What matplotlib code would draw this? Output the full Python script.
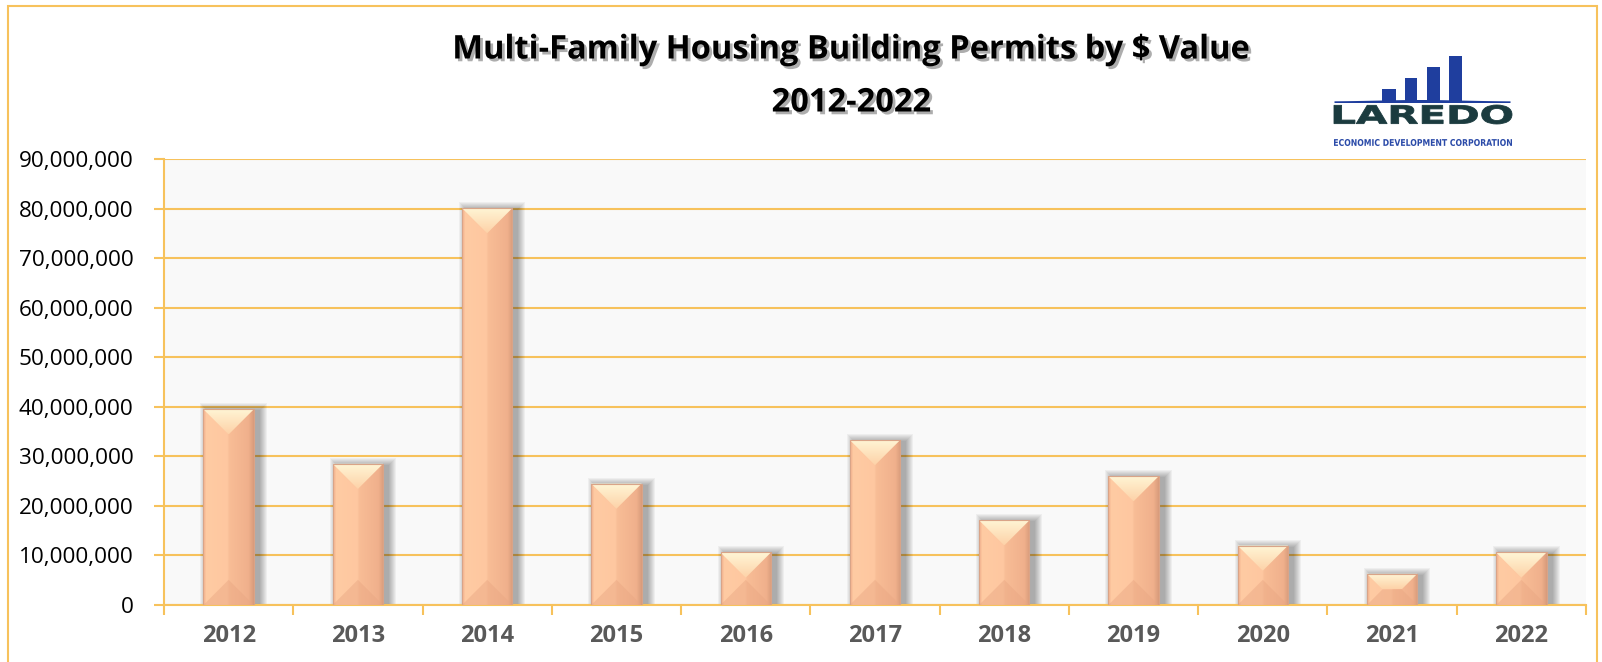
import matplotlib
matplotlib.use("Agg")
import matplotlib.pyplot as plt
import matplotlib.patheffects as pe
from matplotlib.patches import Rectangle, Polygon, PathPatch
from matplotlib.colors import LinearSegmentedColormap
from matplotlib.ticker import FuncFormatter, MultipleLocator
from matplotlib.textpath import TextPath
from matplotlib.font_manager import FontProperties
from matplotlib.transforms import Affine2D
import numpy as np

# data
years = ["2012", "2013", "2014", "2015", "2016", "2017", "2018", "2019", "2020", "2021", "2022"]
permit_values = [39.5e6, 28.5e6, 80.1e6, 24.5e6, 10.6e6, 33.3e6, 17.1e6, 26.0e6, 12.0e6, 6.3e6, 10.6e6]
y_ticks = [0, 10e6, 20e6, 30e6, 40e6, 50e6, 60e6, 70e6, 80e6, 90e6]

title_line1 = "Multi-Family Housing Building Permits by $ Value"
title_line2 = "2012-2022"

ORANGE = "#f7c25c"
W, H = 1602, 662

plt.rcParams["font.family"] = ["Open Sans", "DejaVu Sans"]

fig = plt.figure(figsize=(W / 100, H / 100), dpi=100)
fig.patch.set_facecolor("white")

# outer border of the chart
fig.add_artist(Rectangle((8 / W, -0.05), (1597 - 8) / W, 1.05 - 6 / H, transform=fig.transFigure,
                         fill=False, edgecolor=ORANGE, linewidth=1.5))

left, right, top, bottom = 164, 1586, 159, 605
ax = fig.add_axes([left / W, 1 - bottom / H, (right - left) / W, (bottom - top) / H])
ax.set_facecolor("#f9f9f9")

x = np.arange(len(years))
bar_w = 0.39
bars = ax.bar(x, permit_values, width=bar_w, color="#fcc39c", zorder=3, linewidth=0)

ax.set_xlim(-0.5, len(years) - 0.5)
ax.set_ylim(0, 90e6)

# pixel -> data unit conversions
px_x = (len(years)) / (right - left)
px_y = 90e6 / (bottom - top)

face_cmap = LinearSegmentedColormap.from_list(
    "face", [(0, "#f2b08c"), (0.06, "#ffcba3"), (0.48, "#fec7a0"), (0.52, "#f8bd96"),
             (0.9, "#f0b08c"), (1, "#d99c7c")])
top_cmap = LinearSegmentedColormap.from_list("topb", ["#fdd2a8", "#fff6d6"])
grad_h = np.linspace(0, 1, 64).reshape(1, -1)
grad_v = np.linspace(0, 1, 64).reshape(-1, 1)

for b in bars:
    x0 = b.get_x()
    w = b.get_width()
    h = b.get_height()
    x1 = x0 + w
    # soft shadow to the right
    for s in range(1, 9):
        ax.add_patch(Rectangle((x0 + (5 - s) * px_x, 0), w + 2 * s * px_x, h + (s - 2) * px_y,
                               facecolor="black", alpha=0.045, linewidth=0, zorder=2))
    # face gradient
    im = ax.imshow(grad_h, cmap=face_cmap, extent=[x0, x1, 0, h], aspect="auto", zorder=3.1)
    im.set_clip_path(b)
    # bevels
    w_px = w / px_x
    h_px = h / px_y
    d = min(w_px / 2, h_px / 2)
    dx, dy = d * px_x, d * px_y
    top_poly = Polygon([(x0, h), (x1, h), (x1 - dx, h - dy), (x0 + dx, h - dy)], closed=True,
                       facecolor="none", edgecolor="none", zorder=3.2)
    ax.add_patch(top_poly)
    imt = ax.imshow(grad_v, cmap=top_cmap, extent=[x0, x1, h - dy, h], aspect="auto",
                    origin="lower", zorder=3.2)
    imt.set_clip_path(top_poly)
    ax.add_patch(Polygon([(x0, 0), (x1, 0), (x1 - dx, dy), (x0 + dx, dy)], closed=True,
                         facecolor="#e9a682", alpha=0.45, linewidth=0, zorder=3.3))
    ax.add_patch(Rectangle((x0, 0), w, h, fill=False, edgecolor="#d9a488", linewidth=0.8, zorder=3.4))

ax.set_xlim(-0.5, len(years) - 0.5)
ax.set_ylim(0, 90e6)

# axes styling
for side in ["top", "right"]:
    ax.spines[side].set_visible(False)
for side in ["left", "bottom"]:
    ax.spines[side].set_color(ORANGE)
    ax.spines[side].set_linewidth(1.5)
ax.set_yticks(y_ticks)
ax.yaxis.set_major_formatter(FuncFormatter(lambda v, p: f"{int(v):,}"))
ax.grid(axis="y", color=ORANGE, linewidth=1.5, zorder=1)
ax.set_axisbelow(True)
ax.tick_params(axis="y", length=7, color=ORANGE, width=1.5, labelsize=16.2, pad=15, labelcolor="black")

ax.set_xticks(x)
ax.set_xticklabels(years, fontsize=17, fontweight="bold", color="#595959")
ax.xaxis.set_minor_locator(MultipleLocator(1, offset=0.5))
ax.tick_params(axis="x", which="major", length=0, pad=14)
ax.tick_params(axis="x", which="minor", length=7, color=ORANGE, width=1.5)

# title with drop shadow
shadow = [pe.withSimplePatchShadow(offset=(2, -2), shadow_rgbFace="#777777", alpha=0.6)]
fig.text(851 / W, 1 - 50 / H, title_line1, ha="center", va="center", fontsize=23.5,
         fontweight="bold", color="black", path_effects=shadow)
fig.text(851 / W, 1 - 103 / H, title_line2, ha="center", va="center", fontsize=23.5,
         fontweight="bold", color="black", path_effects=shadow)

# logo (pixel coordinates of the figure, y downwards)
lax = fig.add_axes([1330 / W, 1 - 150 / H, 185 / W, 100 / H])
lax.set_xlim(1330, 1515)
lax.set_ylim(150, 50)
lax.axis("off")
for bx0, bx1, btop in [(1382, 1396, 89), (1405, 1417, 78), (1427, 1440, 67), (1449, 1462, 56)]:
    lax.add_patch(Rectangle((bx0, btop), bx1 - bx0, 102 - btop, facecolor="#1f3e9e", linewidth=0))
sx = np.linspace(1334, 1510, 50)
lax.fill_between(sx, 101 - 1.5 * np.exp(-((sx - 1420) / 60) ** 2), 102.5, color="#1f3e9e", linewidth=0)

# wide "LAREDO" lettering stretched to fit its box
tp = TextPath((0, 0), "LAREDO", size=10, prop=FontProperties(family="DejaVu Sans", weight="bold"))
ext = tp.get_extents()
sxf = (1512 - 1334) / ext.width
syf = (124 - 105) / ext.height
tr = Affine2D().translate(-ext.x0, -ext.y0).scale(sxf, -syf).translate(1334, 124)
lax.add_patch(PathPatch(tr.transform_path(tp), facecolor="#1b3b3f", edgecolor="#1b3b3f", linewidth=0.6))

tp2 = TextPath((0, 0), "ECONOMIC DEVELOPMENT CORPORATION", size=10,
               prop=FontProperties(family="DejaVu Sans", weight="bold"))
ext2 = tp2.get_extents()
tr2 = (Affine2D().translate(-ext2.x0, -ext2.y0)
       .scale((1512 - 1334) / ext2.width, -(146 - 139) / ext2.height).translate(1334, 146))
lax.add_patch(PathPatch(tr2.transform_path(tp2), facecolor="#2a4aa8", edgecolor="none"))

fig.savefig("out.png", dpi=100)
